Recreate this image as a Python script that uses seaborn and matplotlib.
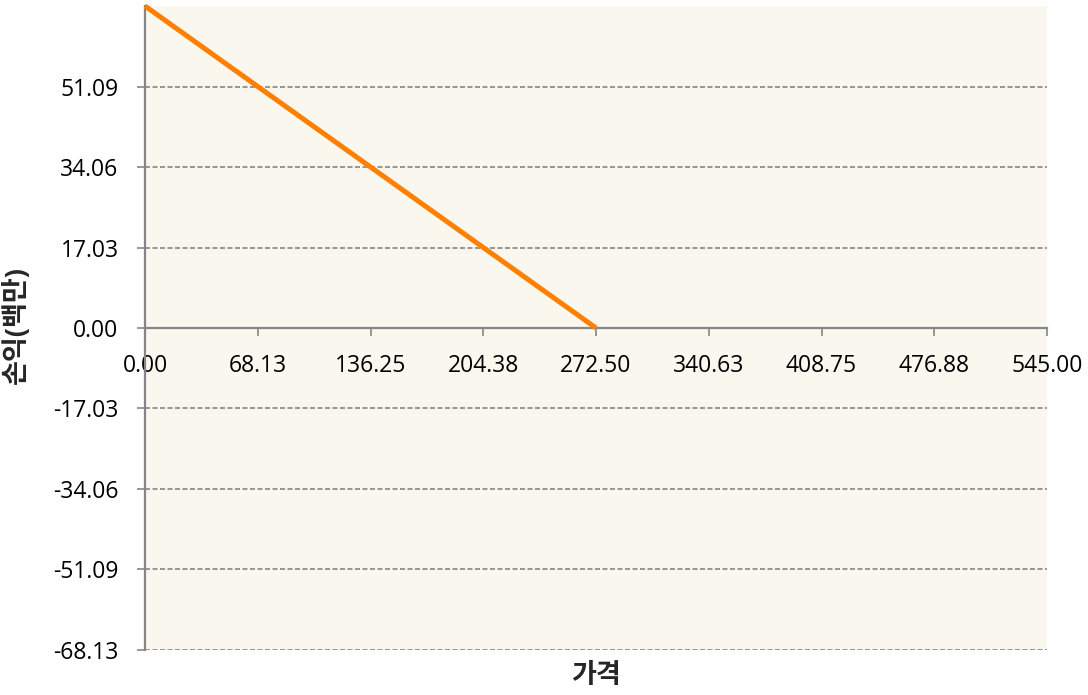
import seaborn as sns
import pandas as pd
import matplotlib.pyplot as plt
from matplotlib.ticker import FixedLocator, FormatStrFormatter

# data
price = [0.0, 272.50]
pnl = [68.13, 0.0]
x_ticks = [0.0, 68.13, 136.25, 204.38, 272.50, 340.63, 408.75, 476.88, 545.00]
y_ticks = [-68.13, -51.09, -34.06, -17.03, 0.0, 17.03, 34.06, 51.09]
x_label = "가격"
y_label = "손익(백만)"

sns.set_style("white")
plt.rcParams['font.family'] = ['Open Sans', 'Noto Sans CJK KR', 'DejaVu Sans']

df = pd.DataFrame({"price": price, "pnl": pnl})

fig = plt.figure(figsize=(10.88, 6.95), dpi=100)
ax = fig.add_axes([145 / 1088, 1 - 650 / 695, (1047 - 145) / 1088, (650 - 6) / 695])
ax.set_facecolor("#FAF7EF")

grid_color = "#868686"
for v in y_ticks:
    if v != 0:
        ax.axhline(v, color=grid_color, lw=1.2, ls=(0, (3, 1.5)), zorder=1)

sns.lineplot(data=df, x="price", y="pnl", ax=ax, color="#FF8000", lw=3.6,
             solid_capstyle="butt", zorder=5, clip_on=False)

ax.set_xlim(0, 545.0)
ax.set_ylim(-68.13, 68.13)
ax.xaxis.set_major_locator(FixedLocator(x_ticks))
ax.yaxis.set_major_locator(FixedLocator(y_ticks))
ax.xaxis.set_major_formatter(FormatStrFormatter("%.2f"))
ax.yaxis.set_major_formatter(FormatStrFormatter("%.2f"))

for s in ("top", "right"):
    ax.spines[s].set_visible(False)
ax.spines["bottom"].set_position(("data", 0))
for s in ("left", "bottom"):
    ax.spines[s].set_color(grid_color)
    ax.spines[s].set_linewidth(1.6)
    ax.spines[s].set_zorder(3)

ax.tick_params(axis="x", direction="out", length=6, width=1.2, color=grid_color,
               pad=13, labelsize=16.5, labelcolor="black", bottom=True)
ax.tick_params(axis="y", direction="out", length=6, width=1.2, color=grid_color,
               pad=13, labelsize=16.5, labelcolor="black", left=True)

ax.set_xlabel("")
ax.set_ylabel("")
fig.text(596 / 1088, 1 - 676 / 695, x_label, ha="center", va="center",
         fontsize=19.5, fontweight="bold")
fig.text(16 / 1088, 1 - 325 / 695, y_label, ha="center", va="center",
         rotation=90, fontsize=19.5, fontweight="bold")

fig.savefig("out.png", dpi=100)
